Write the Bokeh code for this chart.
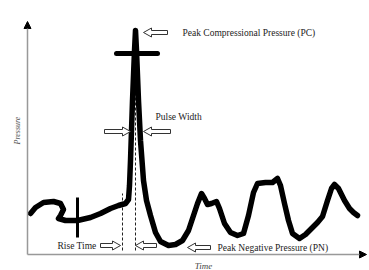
import math
from bokeh.plotting import figure
from bokeh.models import Range1d, Arrow, NormalHead
from bokeh.core.properties import value
from bokeh.embed import file_html
from bokeh.resources import INLINE

# Schematic pressure pulse (arbitrary units)
time = [3, 8, 16, 26, 33, 36, 33, 31, 38, 50, 63, 73, 83, 91, 98, 101, 102, 103, 105, 107,
        108, 109, 111, 113, 116, 119, 123, 128, 133, 141, 148, 155, 161, 166, 170, 174,
        177, 180, 184, 189, 192, 197, 203, 210, 216, 221, 226, 230, 238, 245, 250, 253,
        257, 261, 265, 272, 278, 284, 290, 295, 300, 304, 307, 311, 317, 322, 326, 330]
pressure = [41, 47, 52, 53, 51, 45, 39, 36, 34, 34, 37, 41, 46, 49, 51, 55, 69, 94, 154, 204,
            224, 204, 154, 114, 74, 54, 39, 22, 13, 9, 10, 14, 24, 39, 51, 61,
            56, 50, 51, 53, 46, 31, 22, 19, 21, 39, 62, 71, 72, 72, 76, 69,
            51, 34, 21, 16, 20, 26, 32, 38, 54, 66, 70, 66, 54, 46, 42, 39]

# marker crosses
tick_v_time = [50]
tick_v_p = [[17, 57]]
tick_h_p = [201]
tick_h_time = [[89, 130]]

# dashed guide lines
guide_time = [95, 108]
guide_p = [[4, 61], [4, 200]]

# hollow pointer arrows: tip time, tip pressure, direction (+1 right, -1 left), length
arrow_tip_t = [116, 103, 116, 93, 108, 160]
arrow_tip_p = [222, 123, 123, 9, 9, 7]
arrow_dir = [-1, 1, -1, 1, -1, -1]
arrow_len = [24, 26, 27, 20, 21, 23]

labels = ["Peak Compressional Pressure (PC)", "Pulse Width", "Rise Time",
          "Peak Negative Pressure (PN)"]
label_t = [155, 128, 30, 190]
label_p = [222, 138, 9, 7]

p = figure(width=369, height=270, x_range=Range1d(-27, 342), y_range=Range1d(-16, 254),
           x_axis_type=None, y_axis_type=None, toolbar_location=None,
           output_backend="svg", min_border=0, outline_line_color=None)
p.grid.visible = False
p.background_fill_color = "white"

# axes with arrowheads
p.add_layout(Arrow(end=NormalHead(size=7, fill_color="black", line_color="black"),
                   x_start=0, y_start=0, x_end=0, y_end=233,
                   line_color="#999999", line_width=1.5))
p.add_layout(Arrow(end=NormalHead(size=7, fill_color="black", line_color="black"),
                   x_start=0, y_start=0, x_end=339, y_end=0,
                   line_color="#999999", line_width=1.5))

# dashed guides
for t, (a, b) in zip(guide_time, guide_p):
    p.line([t, t], [a, b], line_color="#222222", line_width=1, line_dash="3 2")

# waveform
p.line(time, pressure, line_color="black", line_width=5.5, line_join="round", line_cap="round")

for t, (a, b) in zip(tick_v_time, tick_v_p):
    p.line([t, t], [a, b], line_color="black", line_width=3)
for pp, (a, b) in zip(tick_h_p, tick_h_time):
    p.line([a, b], [pp, pp], line_color="black", line_width=5, line_cap="round")

# hollow block arrows
xs, ys = [], []
hl, hh, sh = 8, 4.5, 2
for t, pp, d, L in zip(arrow_tip_t, arrow_tip_p, arrow_dir, arrow_len):
    tail = t - d * L
    neck = t - d * hl
    xs.append([t, neck, neck, tail, tail, neck, neck])
    ys.append([pp, pp + hh, pp + sh, pp + sh, pp - sh, pp - sh, pp - hh])
p.patches(xs, ys, fill_color="white", line_color="#333333", line_width=1)

p.text(label_t, label_p, text=labels, text_font=value("Liberation Serif"),
       text_font_size="9.5px", text_color="#222222", text_baseline="middle", text_align="left")

p.text([-10], [124], text=["Pressure"], angle=math.pi / 2, text_font=value("Liberation Serif"),
       text_font_style="italic", text_font_size="8px", text_color="#555555",
       text_baseline="middle", text_align="center")
p.text([176], [-11], text=["Time"], text_font=value("Liberation Serif"),
       text_font_style="italic", text_font_size="9px", text_color="#444444",
       text_baseline="middle", text_align="center")

open("out.html", "w").write(file_html(p, INLINE))
